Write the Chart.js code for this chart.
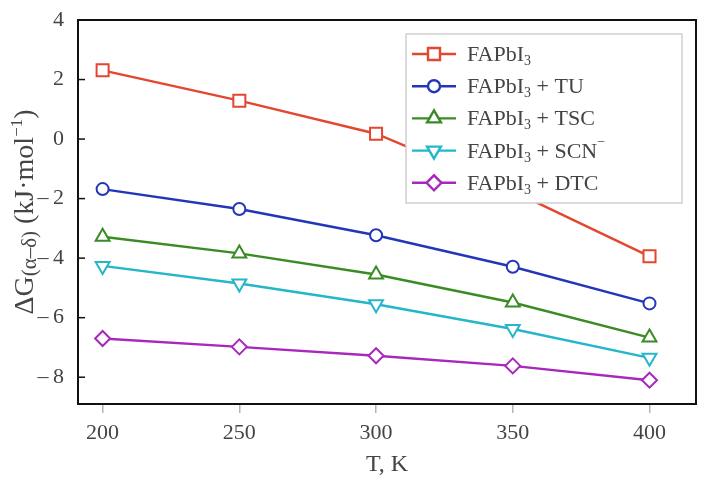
<!DOCTYPE html>
<html>
<head>
<meta charset="utf-8">
<script src="https://cdn.jsdelivr.net/npm/chart.js@4/dist/chart.umd.min.js"></script>
<style>
  body { margin: 0; background: #fff; }
  #wrap { width: 716px; height: 489px; }
</style>
</head>
<body>
<div id="wrap"><canvas id="gibbsChart" width="716" height="489"></canvas></div>
<script>
// Data
const temps = [200, 250, 300, 350, 400];
const fapbi3 = [2.31, 1.29, 0.18, -1.75, -3.94];
const fapbi3TU = [-1.68, -2.35, -3.23, -4.29, -5.52];
const fapbi3TSC = [-3.28, -3.84, -4.55, -5.49, -6.67];
const fapbi3SCN = [-4.26, -4.85, -5.55, -6.38, -7.35];
const fapbi3DTC = [-6.70, -6.98, -7.28, -7.62, -8.10];
const xTicks = [200, 250, 300, 350, 400];
const yTicks = [4, 2, 0, -2, -4, -6, -8];

const serif = "'Liberation Serif', 'Times New Roman', serif";

// legend entries: subscript, rest, superscript
const legendItems = [
    { sub: '3', rest: '', sup: '' },
    { sub: '3', rest: ' + TU', sup: '' },
    { sub: '3', rest: ' + TSC', sup: '' },
    { sub: '3', rest: ' + SCN', sup: '\u2212' },
    { sub: '3', rest: ' + DTC', sup: '' }
];

function series(label, values, color, style, rotation, radius) {
    return {
        label: label,
        data: temps.map((t, i) => ({ x: t, y: values[i] })),
        borderColor: color,
        backgroundColor: '#fff',
        borderWidth: 2.4,
        pointStyle: style,
        pointRotation: rotation,
        pointRadius: radius,
        pointBorderWidth: 2,
        pointBackgroundColor: '#fff',
        pointBorderColor: color,
        tension: 0
    };
}

// frame, inward y ticks, y title and legend
const decorPlugin = {
    id: 'decor',
    afterDatasetsDraw(chart) {
        const ctx = chart.ctx;
        const a = chart.chartArea;
        const ys = chart.scales.y;
        ctx.save();
        ctx.strokeStyle = '#111';
        ctx.lineWidth = 2;
        ctx.strokeRect(a.left, a.top, a.right - a.left, a.bottom - a.top);
        ctx.lineWidth = 1.5;
        yTicks.forEach(v => {
            const py = ys.getPixelForValue(v);
            ctx.beginPath();
            ctx.moveTo(a.left, py);
            ctx.lineTo(a.left + 7, py);
            ctx.stroke();
        });

        // y axis title with subscript / superscript
        ctx.fillStyle = '#444';
        ctx.textBaseline = 'alphabetic';
        ctx.textAlign = 'left';
        const parts = [
            { t: '\u0394G', size: 28, dy: 0 },
            { t: '(\u03b1\u2013\u03b4)', size: 21, dy: 3 },
            { t: ' (kJ\u00b7mol', size: 28, dy: 0 },
            { t: '\u22121', size: 17, dy: -11 },
            { t: ')', size: 28, dy: 0 }
        ];
        let total = 0;
        parts.forEach(p => {
            ctx.font = p.size + 'px ' + serif;
            p.w = ctx.measureText(p.t).width;
            total += p.w;
        });
        ctx.translate(33, (a.top + a.bottom) / 2);
        ctx.rotate(-Math.PI / 2);
        let px = -total / 2;
        parts.forEach(p => {
            ctx.font = p.size + 'px ' + serif;
            ctx.fillText(p.t, px, p.dy);
            px += p.w;
        });
        ctx.setTransform(1, 0, 0, 1, 0, 0);

        // legend box
        const lx = 406, ly = 34, lw = 276, lh = 169;
        ctx.fillStyle = '#fff';
        ctx.strokeStyle = '#d0d0d0';
        ctx.lineWidth = 1.5;
        ctx.fillRect(lx, ly, lw, lh);
        ctx.strokeRect(lx, ly, lw, lh);
        chart.data.datasets.forEach((ds, i) => {
            const cy = ly + 20 + i * 32.2;
            ctx.strokeStyle = ds.borderColor;
            ctx.lineWidth = 2.4;
            ctx.beginPath();
            ctx.moveTo(lx + 6, cy);
            ctx.lineTo(lx + 50, cy);
            ctx.stroke();
            ctx.fillStyle = '#fff';
            Chart.helpers.drawPoint(ctx, {
                pointStyle: ds.pointStyle,
                rotation: ds.pointRotation,
                radius: ds.pointRadius,
                borderWidth: 2
            }, lx + 28, cy);
            const it = legendItems[i];
            ctx.fillStyle = '#444';
            let tx = lx + 61;
            const base = cy + 7;
            ctx.font = '22px ' + serif;
            ctx.fillText('FAPbI', tx, base);
            tx += ctx.measureText('FAPbI').width;
            ctx.font = '14px ' + serif;
            ctx.fillText(it.sub, tx, base + 4);
            tx += ctx.measureText(it.sub).width;
            ctx.font = '22px ' + serif;
            ctx.fillText(it.rest, tx, base);
            tx += ctx.measureText(it.rest).width;
            if (it.sup) {
                ctx.font = '14px ' + serif;
                ctx.fillText(it.sup, tx, base - 12);
            }
        });
        ctx.restore();
    }
};

const ctx = document.getElementById('gibbsChart').getContext('2d');
new Chart(ctx, {
    type: 'line',
    data: {
        datasets: [
            series('FAPbI3', fapbi3, '#e4462f', 'rect', 0, 8.5),
            series('FAPbI3 + TU', fapbi3TU, '#2436b8', 'circle', 0, 6),
            series('FAPbI3 + TSC', fapbi3TSC, '#3b8b24', 'triangle', 0, 8),
            series('FAPbI3 + SCN-', fapbi3SCN, '#25b6c9', 'triangle', 180, 8),
            series('FAPbI3 + DTC', fapbi3DTC, '#a828bd', 'rectRot', 0, 7.5)
        ]
    },
    options: {
        responsive: false,
        animation: false,
        layout: { padding: { left: 0, top: 20, right: 20, bottom: 0 } },
        plugins: {
            legend: { display: false },
            tooltip: { enabled: false }
        },
        scales: {
            x: {
                type: 'linear',
                min: 191,
                max: 417,
                afterBuildTicks: s => { s.ticks = xTicks.map(v => ({ value: v })); },
                afterFit: s => { s.height = 85; },
                grid: { drawOnChartArea: false, drawTicks: true, tickLength: 9, color: '#b5b5b5', lineWidth: 1.5 },
                border: { display: false },
                ticks: { color: '#444', font: { family: serif, size: 22 }, padding: 7, maxRotation: 0 },
                title: { display: true, text: 'T, K', color: '#444', font: { family: serif, size: 24 }, padding: { top: 0, bottom: 10 } }
            },
            y: {
                min: -8.9,
                max: 4,
                afterBuildTicks: s => { s.ticks = yTicks.map(v => ({ value: v })); },
                afterFit: s => { s.width = 78; },
                grid: { display: false },
                border: { display: false },
                ticks: {
                    color: '#444',
                    font: { family: serif, size: 22 },
                    padding: 6,
                    callback: v => v < 0 ? '\u2013\u2009' + Math.abs(v) : String(v)
                }
            }
        }
    },
    plugins: [decorPlugin]
});
</script>
</body>
</html>
